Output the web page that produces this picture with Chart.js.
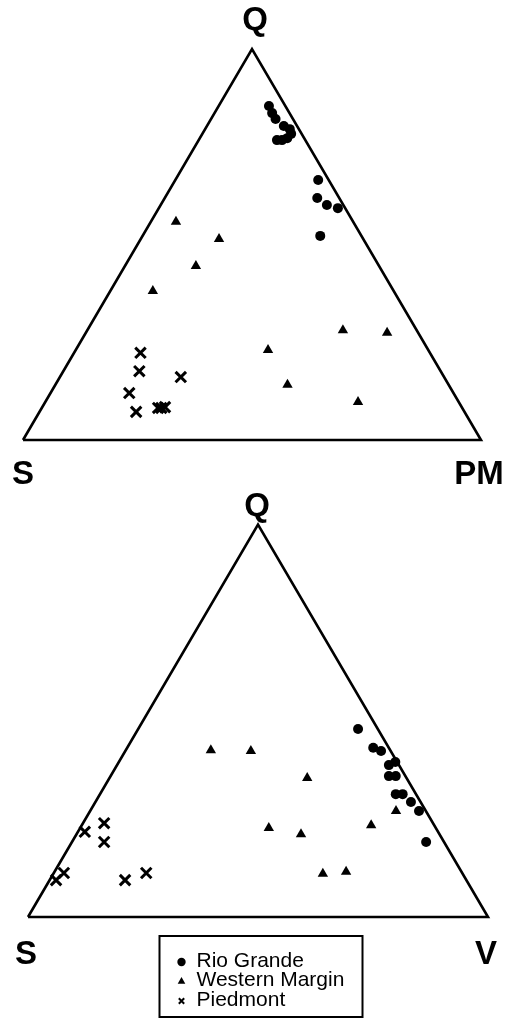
<!DOCTYPE html>
<html>
<head>
<meta charset="utf-8">
<script src="https://cdn.jsdelivr.net/npm/chart.js@4/dist/chart.umd.min.js"></script>
<style>
  html, body { margin: 0; padding: 0; background: #fff; }
  #wrap { position: relative; width: 509px; height: 1019px; }
  canvas { position: absolute; left: 0; }
</style>
</head>
<body>
<div id="wrap">
  <canvas id="qspm" width="509" height="500" style="top:0"></canvas>
  <canvas id="qsv" width="509" height="539" style="top:480px"></canvas>
</div>
<script>
// compositions as [Q, S, third pole] percentages
const qspmRioGrande = [
  [85.4, 3.6, 11.0], [83.6, 3.8, 12.6], [82.1, 3.8, 14.1], [80.3, 2.9, 16.8],
  [79.5, 2.0, 18.5], [78.3, 2.3, 19.4], [77.2, 3.7, 19.1], [76.7, 5.1, 18.2],
  [76.7, 6.2, 17.1], [66.5, 2.3, 31.2], [61.9, 4.8, 33.3], [60.1, 3.6, 36.3],
  [59.3, 1.6, 39.1], [52.2, 9.0, 38.8]
];
const qspmWesternMargin = [
  [55.8, 38.7, 5.5], [51.4, 31.5, 17.1], [44.5, 40.0, 15.5], [38.1, 52.6, 9.3],
  [28.1, 16.1, 55.8], [27.4, 6.8, 65.8], [23.0, 35.0, 42.0], [14.1, 35.2, 50.7],
  [9.7, 22.0, 68.3]
];
const qspmPiedmont = [
  [22.3, 63.2, 14.5], [17.6, 65.8, 16.6], [16.1, 57.5, 26.4], [12.0, 70.8, 17.2],
  [7.2, 71.7, 21.1], [8.2, 66.4, 25.4], [8.2, 65.7, 26.1], [8.4, 64.8, 26.8]
];

const qsvRioGrande = [
  [47.9, 4.3, 47.8], [43.1, 3.4, 53.5], [42.3, 2.1, 55.6], [38.7, 2.2, 59.1],
  [39.5, 0.4, 60.1], [35.9, 3.6, 60.5], [35.9, 2.1, 62.0], [31.3, 4.4, 64.3],
  [31.3, 2.9, 65.8], [29.3, 2.1, 68.6], [27.0, 1.5, 71.5], [19.1, 3.9, 77.0]
];
const qsvWesternMargin = [
  [42.5, 39.0, 18.5], [42.3, 30.4, 27.3], [35.4, 21.6, 43.0], [22.7, 36.3, 41.0],
  [21.1, 30.1, 48.8], [11.0, 30.4, 58.6], [11.5, 25.1, 63.4], [23.4, 13.7, 62.9],
  [27.0, 6.5, 66.5]
];
const qsvPiedmont = [
  [21.7, 76.8, 1.5], [23.9, 71.5, 4.6], [19.1, 73.9, 7.0], [11.2, 86.6, 2.2],
  [9.4, 89.2, 1.4], [9.4, 74.2, 16.4], [11.2, 68.7, 20.1]
];

const seriesNames = ['Rio Grande', 'Western Margin', 'Piedmont'];
const fontFamily = '"Liberation Sans", Arial, Helvetica, sans-serif';

// ternary -> cartesian: S at (0,0), third pole at (100,0), Q at (50,100)
function toXY(c) {
  const t = c[0] + c[1] + c[2];
  const q = c[0] / t * 100, r = c[2] / t * 100;
  return { x: r + q / 2, y: q };
}

function pointSet(label, rows, style) {
  const base = {
    label: label,
    data: rows.map(toXY),
    showLine: false,
    clip: false,
    backgroundColor: '#000',
    borderColor: '#000'
  };
  if (style === 'circle') {
    return Object.assign(base, { pointStyle: 'circle', pointRadius: 5, pointBorderWidth: 0 });
  }
  if (style === 'triangle') {
    return Object.assign(base, { pointStyle: 'triangle', pointRadius: 6, pointBorderWidth: 0 });
  }
  return Object.assign(base, { pointStyle: 'crossRot', pointRadius: 7.4, pointBorderWidth: 3 });
}

// triangle outline
function frameSet() {
  return {
    label: '',
    data: [{ x: 0, y: 0 }, { x: 100, y: 0 }, { x: 50, y: 100 }, { x: 0, y: 0 }],
    showLine: true,
    borderColor: '#000',
    borderWidth: 2.6,
    pointRadius: 0,
    clip: false,
    order: 10
  };
}

// pole names at the corners
const cornerLabels = {
  id: 'cornerLabels',
  afterDraw(chart, args, opts) {
    const ctx = chart.ctx, xs = chart.scales.x, ys = chart.scales.y;
    ctx.save();
    ctx.fillStyle = '#000';
    ctx.font = 'bold 33px ' + fontFamily;
    ctx.textBaseline = 'alphabetic';
    ctx.textAlign = 'center';
    ctx.fillText('Q', xs.getPixelForValue(50) + opts.topDx, ys.getPixelForValue(100) - opts.topGap);
    ctx.fillText('S', xs.getPixelForValue(0) + opts.leftDx, ys.getPixelForValue(0) + opts.baseGap);
    ctx.fillText(opts.right, xs.getPixelForValue(100) + opts.rightDx, ys.getPixelForValue(0) + opts.baseGap);
    ctx.restore();
  }
};

// boxed legend under the lower diagram
const boxLegend = {
  id: 'boxLegend',
  afterDraw(chart, args, opts) {
    if (!opts.show) return;
    const ctx = chart.ctx;
    ctx.save();
    ctx.strokeStyle = '#000';
    ctx.lineWidth = 2;
    ctx.strokeRect(opts.left, opts.top, opts.width, opts.height);
    ctx.font = '21px ' + fontFamily;
    ctx.textBaseline = 'middle';
    ctx.textAlign = 'left';
    const marks = [
      { pointStyle: 'circle', radius: 4.2, borderWidth: 0 },
      { pointStyle: 'triangle', radius: 4.4, borderWidth: 0 },
      { pointStyle: 'crossRot', radius: 3.8, borderWidth: 1.6 }
    ];
    chart.data.datasets.filter(d => d.label).forEach((d, i) => {
      const y = opts.top + opts.firstRow + i * opts.rowGap;
      ctx.fillStyle = '#000';
      ctx.strokeStyle = '#000';
      Chart.helpers.drawPoint(ctx, marks[i], opts.left + 22, y + 1);
      ctx.fillText(d.label, opts.left + 37, y);
    });
    ctx.restore();
  }
};

function makeChart(id, rows, padding, labelOpts, legendOpts) {
  return new Chart(document.getElementById(id), {
    type: 'scatter',
    data: {
      datasets: [
        frameSet(),
        pointSet(seriesNames[0], rows[0], 'circle'),
        pointSet(seriesNames[1], rows[1], 'triangle'),
        pointSet(seriesNames[2], rows[2], 'cross')
      ]
    },
    options: {
      responsive: false,
      animation: false,
      layout: { padding: padding },
      scales: {
        x: { type: 'linear', min: 0, max: 100, display: false },
        y: { type: 'linear', min: 0, max: 100, display: false }
      },
      plugins: {
        legend: { display: false },
        tooltip: { enabled: false },
        cornerLabels: labelOpts,
        boxLegend: legendOpts
      }
    },
    plugins: [cornerLabels, boxLegend]
  });
}

makeChart('qspm', [qspmRioGrande, qspmWesternMargin, qspmPiedmont],
  { left: 23, right: 28, top: 49, bottom: 60 },
  { right: 'PM', topDx: 3, topGap: 19, leftDx: 0, rightDx: -2, baseGap: 44 },
  { show: false });

makeChart('qsv', [qsvRioGrande, qsvWesternMargin, qsvPiedmont],
  { left: 28, right: 21, top: 44.5, bottom: 102 },
  { right: 'V', topDx: -1, topGap: 9, leftDx: -2, rightDx: -2, baseGap: 47 },
  { show: true, left: 159.5, top: 456, width: 203, height: 81, firstRow: 25, rowGap: 19.5 });
</script>
</body>
</html>
